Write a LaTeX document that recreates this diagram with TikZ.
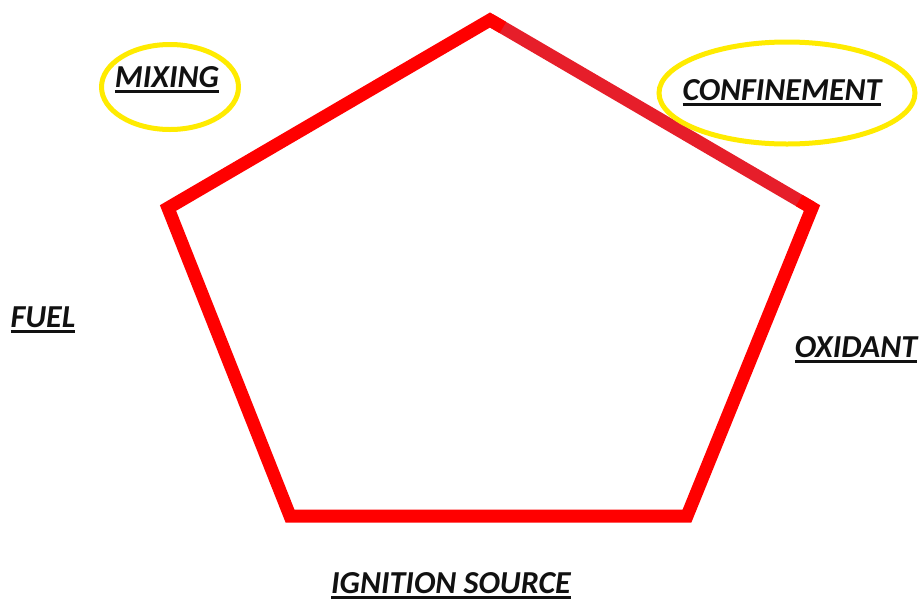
\documentclass[tikz,border=0pt]{standalone}
\usepackage{fontspec}
\setmainfont{Carlito}
\usetikzlibrary{shapes.geometric, calc}
\definecolor{pentared}{HTML}{FF0000}
\definecolor{edgered}{HTML}{E61E2A}
\definecolor{ringyellow}{HTML}{FFEB00}
\definecolor{labeltext}{HTML}{111111}
\newcommand{\ulabel}[1]{\setbox0\hbox{#1}\leavevmode\rlap{\raisebox{-6pt}{\rule{\wd0}{2.8pt}}}\box0}
\tikzset{
  side/.style={draw=pentared, line width=13pt, line join=miter},
  ring/.style={ellipse, draw=ringyellow, line width=5pt, inner sep=0pt},
  factor/.style={anchor=base, inner sep=0pt, text=labeltext, font=\fontsize{32}{36}\selectfont\bfseries\itshape},
}

\begin{document}
\begin{tikzpicture}[x=1pt, y=-1pt]
\useasboundingbox (0,0) rectangle (923,603);

% ===== Pentagon corners =====
\coordinate (ptop) at (490,20);
\coordinate (pright) at (812,208);
\coordinate (pbr) at (687,516);
\coordinate (pbl) at (290,516);
\coordinate (pleft) at (168,208);

% ===== Pentagon =====
\draw[side, draw=edgered] (ptop) -- (pright);
\draw[side] ($(pright)!0.04!(ptop)$) -- (pright) -- (pbr) -- (pbl) -- (pleft) -- (ptop) -- ($(ptop)!0.04!(pright)$);

% ===== Rings =====
\node[ring, minimum width=137pt, minimum height=85pt] (mixring) at (170,87) {};
\node[ring, minimum width=256pt, minimum height=102pt] (confring) at (787,93) {};

% ===== Labels =====
\node[factor] (mixing) at (167,87) {\ulabel{MIXING}};
\node[factor] (confinement) at (782,100) {\ulabel{CONFINEMENT}};
\node[factor] (fuel) at (43,327) {\ulabel{FUEL}};
\node[factor] (oxidant) at (856,357) {\ulabel{OXIDANT}};
\node[factor] (ignition) at (451,593) {\ulabel{IGNITION SOURCE}};

\end{tikzpicture}
\end{document}
